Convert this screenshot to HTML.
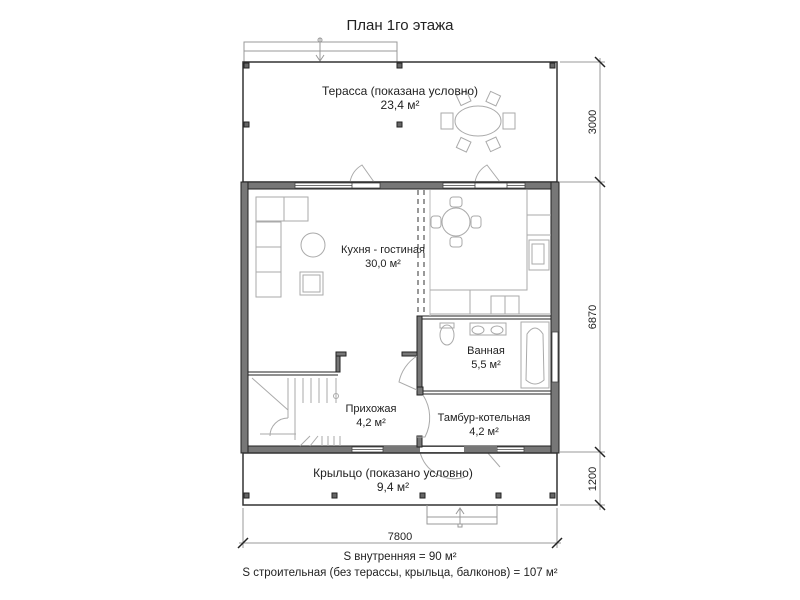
<!DOCTYPE html>
<html><head><meta charset="utf-8"><style>
html,body{margin:0;padding:0;background:#fff;}
svg{display:block;font-family:"Liberation Sans",sans-serif;}
</style></head><body>
<svg width="800" height="600" viewBox="0 0 800 600" xmlns="http://www.w3.org/2000/svg">
<rect width="800" height="600" fill="#fff"/>
<text x="400" y="30" font-size="15" text-anchor="middle" fill="#222">План 1го этажа</text>

<!-- top steps -->
<g stroke="#999" fill="none" stroke-width="1">
<polyline points="244,62 244,42 397,42 397,62"/>
<line x1="244" y1="51" x2="397" y2="51"/>
<line x1="320" y1="38" x2="320" y2="62"/><circle cx="320" cy="40" r="2"/>
<polyline points="316,55 320,61 324,55"/>
</g>
<!-- terrace -->
<rect x="243" y="62" width="314" height="120" fill="none" stroke="#333" stroke-width="1.5"/>
<g fill="#666" stroke="#222" stroke-width="1">
<rect x="244" y="63" width="5" height="5"/><rect x="397" y="63" width="5" height="5"/><rect x="550" y="63" width="5" height="5"/>
<rect x="244" y="122" width="5" height="5"/><rect x="397" y="122" width="5" height="5"/>
<rect x="244" y="493" width="5" height="5"/><rect x="332" y="493" width="5" height="5"/><rect x="420" y="493" width="5" height="5"/><rect x="496" y="493" width="5" height="5"/><rect x="550" y="493" width="5" height="5"/>
</g>
<!-- terrace table -->
<g stroke="#aaa" fill="none" stroke-width="1">
<ellipse cx="478" cy="121" rx="23" ry="15"/>
<rect x="441" y="113" width="12" height="16"/><rect x="503" y="113" width="12" height="16"/>
<rect x="458" y="93" width="11" height="11" transform="rotate(-25 463 98)"/>
<rect x="488" y="93" width="11" height="11" transform="rotate(25 493 98)"/>
<rect x="458" y="139" width="11" height="11" transform="rotate(25 463 145)"/>
<rect x="488" y="139" width="11" height="11" transform="rotate(-25 493 145)"/>
</g>
<text x="400" y="95" font-size="12" text-anchor="middle" fill="#222">Терасса (показана условно)</text>
<text x="400" y="109" font-size="12" text-anchor="middle" fill="#222">23,4 м²</text>
<!-- terrace door swings -->
<g stroke="#aaa" fill="none">
<path d="M350,182 A25,25 0 0 1 362,165 L374,182"/>
<path d="M475,182 A25,25 0 0 1 487,165 L500,182"/>
<path d="M487,452 L500,467 M420,452 A35,35 0 0 0 465,477"/>
</g>

<!-- outer walls -->
<g fill="#777" stroke="#222" stroke-width="1">
<rect x="241" y="182" width="318" height="7"/>
<rect x="241" y="446" width="318" height="7"/>
<rect x="241" y="182" width="7" height="271"/>
<rect x="551" y="182" width="8" height="271"/>
</g>
<g fill="#fff" stroke="#444" stroke-width="0.8">
<rect x="295" y="183" width="85" height="5"/><line x1="295" y1="185.5" x2="380" y2="185.5"/>
<rect x="352" y="183" width="28" height="5"/>
<rect x="443" y="183" width="82" height="5"/><line x1="443" y1="185.5" x2="525" y2="185.5"/>
<rect x="475" y="183" width="32" height="5"/>
<rect x="352" y="447" width="31" height="5"/><line x1="352" y1="449.5" x2="383" y2="449.5"/>
<rect x="497" y="447" width="27" height="5"/><line x1="497" y1="449.5" x2="524" y2="449.5"/>
<rect x="552" y="332" width="6" height="50"/>
</g>
<rect x="384" y="446" width="36" height="7" fill="#777"/>
<rect x="464" y="446" width="33" height="7" fill="#777"/>
<rect x="420" y="447" width="44" height="5" fill="#fff"/>

<!-- interior walls -->
<g fill="#777" stroke="#222" stroke-width="1">
<rect x="417" y="316" width="5" height="75"/>
<rect x="417" y="387" width="6" height="8"/>
<rect x="417" y="436" width="5" height="11"/>
<rect x="402" y="352" width="15" height="4"/>
<rect x="336" y="352" width="4" height="20"/>
<rect x="336" y="352" width="10" height="4"/>
</g>
<g stroke="#222" stroke-width="1">
<line x1="422" y1="316" x2="551" y2="316"/><line x1="422" y1="319" x2="551" y2="319"/>
<line x1="423" y1="391" x2="551" y2="391"/><line x1="423" y1="394" x2="551" y2="394"/>
<line x1="248" y1="372" x2="338" y2="372"/><line x1="248" y1="375" x2="338" y2="375"/>
</g>
<g stroke="#333" stroke-dasharray="5,4">
<line x1="418" y1="190" x2="418" y2="316"/><line x1="424" y1="190" x2="424" y2="316"/>
</g>
<line x1="430" y1="190" x2="430" y2="316" stroke="#bbb"/>

<!-- sofa -->
<g stroke="#aaa" fill="#fff">
<rect x="256" y="197" width="25" height="100"/>
<rect x="256" y="197" width="52" height="24"/>
<line x1="284" y1="197" x2="284" y2="221"/>
<line x1="256" y1="222" x2="281" y2="222"/><line x1="256" y1="247" x2="281" y2="247"/><line x1="256" y1="272" x2="281" y2="272"/>
<circle cx="313" cy="245" r="12"/>
<rect x="300" y="272" width="23" height="23"/><rect x="303" y="275" width="17" height="17"/>
</g>
<g stroke="#aaa" fill="#fff">
<circle cx="456" cy="222" r="14"/>
<rect x="450" y="197" width="12" height="10" rx="3"/><rect x="450" y="237" width="12" height="10" rx="3"/>
<rect x="431" y="216" width="10" height="12" rx="3"/><rect x="471" y="216" width="10" height="12" rx="3"/>
</g>
<g stroke="#aaa" fill="none">
<polyline points="527,190 527,290 430,290"/>
<line x1="430" y1="314" x2="551" y2="314"/>
<rect x="529" y="240" width="20" height="30"/><rect x="532" y="244" width="12" height="20"/>
<rect x="491" y="296" width="28" height="18"/><line x1="505" y1="296" x2="505" y2="314"/>
<line x1="527" y1="215" x2="551" y2="215"/><line x1="527" y1="235" x2="551" y2="235"/>
<line x1="470" y1="290" x2="470" y2="314"/>
</g>
<text x="383" y="253" font-size="11" text-anchor="middle" fill="#222">Кухня - гостиная</text>
<text x="383" y="267" font-size="11" text-anchor="middle" fill="#222">30,0 м²</text>

<g stroke="#aaa" fill="none">
<ellipse cx="447" cy="335" rx="7" ry="10"/><rect x="440" y="323" width="14" height="5"/>
<rect x="470" y="323" width="36" height="12"/><ellipse cx="478" cy="330" rx="6" ry="4"/><ellipse cx="497" cy="330" rx="6" ry="4"/>
<rect x="521" y="322" width="28" height="66"/>
<path d="M527,334 Q535,322 543,334 L544,380 Q535,388 526,380 Z"/>
</g>
<text x="486" y="354" font-size="11" text-anchor="middle" fill="#222">Ванная</text>
<text x="486" y="368" font-size="11" text-anchor="middle" fill="#222">5,5 м²</text>
<text x="484" y="421" font-size="11" text-anchor="middle" fill="#222">Тамбур-котельная</text>
<text x="484" y="435" font-size="11" text-anchor="middle" fill="#222">4,2 м²</text>
<text x="371" y="412" font-size="11" text-anchor="middle" fill="#222">Прихожая</text>
<text x="371" y="426" font-size="11" text-anchor="middle" fill="#222">4,2 м²</text>
<g stroke="#aaa" fill="none">
<path d="M417,356 A40,40 0 0 0 399,382 L417,390"/>
<path d="M423,395 A42,42 0 0 1 425,437 L417,437"/>
</g>
<g stroke="#aaa" fill="none">
<line x1="252" y1="378" x2="288" y2="410"/>
<path d="M288,418 A18,18 0 0 0 270,436"/>
<line x1="288" y1="378" x2="288" y2="418"/>
<line x1="295" y1="378" x2="295" y2="440"/><line x1="303" y1="378" x2="303" y2="403"/><line x1="311" y1="378" x2="311" y2="403"/>
<line x1="319" y1="378" x2="319" y2="403"/><line x1="327" y1="378" x2="327" y2="403"/><line x1="336" y1="378" x2="336" y2="403"/>
<line x1="260" y1="434" x2="296" y2="434"/>
<circle cx="336" cy="396" r="2.5"/>
<line x1="300" y1="446" x2="310" y2="436"/><line x1="310" y1="446" x2="318" y2="436"/>
<line x1="322" y1="436" x2="322" y2="446"/><line x1="328" y1="436" x2="328" y2="446"/><line x1="334" y1="436" x2="334" y2="446"/><line x1="340" y1="436" x2="340" y2="446"/>
</g>

<rect x="243" y="453" width="314" height="52" fill="none" stroke="#333" stroke-width="1.5"/>
<text x="393" y="477" font-size="12" text-anchor="middle" fill="#222">Крыльцо (показано условно)</text>
<text x="393" y="491" font-size="12" text-anchor="middle" fill="#222">9,4 м²</text>
<g stroke="#999" fill="none">
<polyline points="427,505 427,524 497,524 497,505"/>
<line x1="427" y1="517" x2="497" y2="517"/>
<line x1="460" y1="508" x2="460" y2="524"/><polyline points="456,514 460,508 464,514"/><rect x="458" y="524" width="4" height="3"/>
</g>

<g stroke="#999" stroke-width="1">
<line x1="560" y1="62" x2="605" y2="62"/><line x1="560" y1="182" x2="605" y2="182"/>
<line x1="560" y1="452" x2="605" y2="452"/><line x1="560" y1="505" x2="605" y2="505"/>
<line x1="600" y1="58" x2="600" y2="510"/>
<line x1="243" y1="508" x2="243" y2="548"/><line x1="557" y1="508" x2="557" y2="548"/>
<line x1="239" y1="543" x2="561" y2="543"/>
</g>
<g stroke="#222" stroke-width="1.5">
<line x1="595" y1="57" x2="605" y2="67"/><line x1="595" y1="177" x2="605" y2="187"/>
<line x1="595" y1="447" x2="605" y2="457"/><line x1="595" y1="500" x2="605" y2="510"/>
<line x1="238" y1="548" x2="248" y2="538"/><line x1="552" y1="548" x2="562" y2="538"/>
</g>
<g font-size="11" fill="#222" text-anchor="middle">
<text transform="translate(596,122) rotate(-90)">3000</text>
<text transform="translate(596,317) rotate(-90)">6870</text>
<text transform="translate(596,479) rotate(-90)">1200</text>
<text x="400" y="540">7800</text>
</g>
<text x="400" y="560" font-size="11.5" text-anchor="middle" fill="#222">S внутренняя = 90 м²</text>
<text x="400" y="576" font-size="11.5" text-anchor="middle" fill="#222">S строительная  (без терассы, крыльца, балконов) = 107 м²</text>
</svg>
</body></html>
